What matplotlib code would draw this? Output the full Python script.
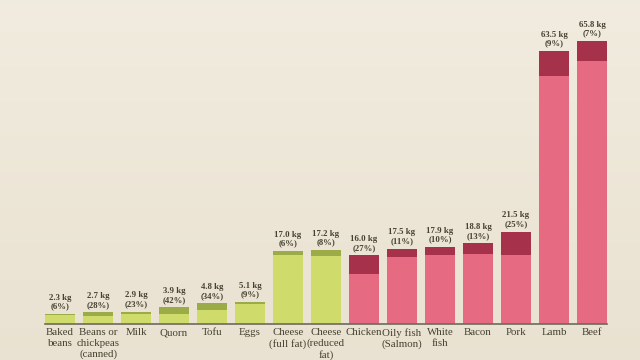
import numpy as np
import matplotlib.pyplot as plt

# food categories, total footprint (kg) and share of the top segment (%)
foods = ['Baked\nbeans', 'Beans or\nchickpeas\n(canned)', 'Milk', 'Quorn', 'Tofu', 'Eggs',
         'Cheese\n(full fat)', 'Cheese\n(reduced\nfat)', 'Chicken', 'Oily fish\n(Salmon)',
         'White\nfish', 'Bacon', 'Pork', 'Lamb', 'Beef']
totals = [2.3, 2.7, 2.9, 3.9, 4.8, 5.1, 17.0, 17.2, 16.0, 17.5, 17.9, 18.8, 21.5, 63.5, 65.8]
pcts = [6, 28, 23, 42, 34, 9, 6, 8, 27, 11, 10, 13, 25, 9, 7]
is_meat = [False]*8 + [True]*7

light_green = '#cfdc6b'
dark_green = '#9bab48'
light_pink = '#e56a82'
dark_red = '#a6314b'
text_col = '#45412f'

fig = plt.figure(figsize=(6.4, 3.6), dpi=100)

# beige paper background, a bit lighter at the top
bg = fig.add_axes([0, 0, 1, 1])
grad = np.linspace(0, 1, 256).reshape(-1, 1)
top = np.array([0.945, 0.925, 0.875])
bot = np.array([0.915, 0.885, 0.820])
img = top + (bot - top) * grad[..., None]
bg.imshow(img, aspect='auto', extent=[0, 1, 0, 1])
bg.axis('off')

ax = fig.add_axes([0, 36/360, 1, 324/360])
ax.patch.set_alpha(0)
px = 38.0
ax.set_xlim(-60/px, (640-60)/px)
ax.set_ylim(0, 324/4.3)

x = np.arange(len(foods))
totals = np.array(totals)
tops = totals * np.array(pcts) / 100
bases = totals - tops
light = [light_pink if m else light_green for m in is_meat]
dark = [dark_red if m else dark_green for m in is_meat]

ax.bar(x, bases, width=0.8, color=light)
ax.bar(x, tops, bottom=bases, width=0.8, color=dark)

for xi, t, p in zip(x, totals, pcts):
    ax.text(xi, t + 0.8, f'{t:.1f} kg\n({p}%)', ha='center', va='bottom',
            fontsize=6.3, family='Liberation Serif', fontweight='bold',
            color=text_col, linespacing=1.15)

for s in ['top', 'left', 'right']:
    ax.spines[s].set_visible(False)
ax.spines['bottom'].set_bounds(-0.4, 14.4)
ax.spines['bottom'].set_color('#6e6a5c')
ax.spines['bottom'].set_linewidth(1.2)
ax.set_yticks([])
ax.set_xticks(x)
ax.set_xticklabels(foods, fontsize=7.8, family='Liberation Serif', color=text_col, linespacing=1.2)
ax.tick_params(axis='x', length=0, pad=3)

fig.savefig('out.png', dpi=100)
